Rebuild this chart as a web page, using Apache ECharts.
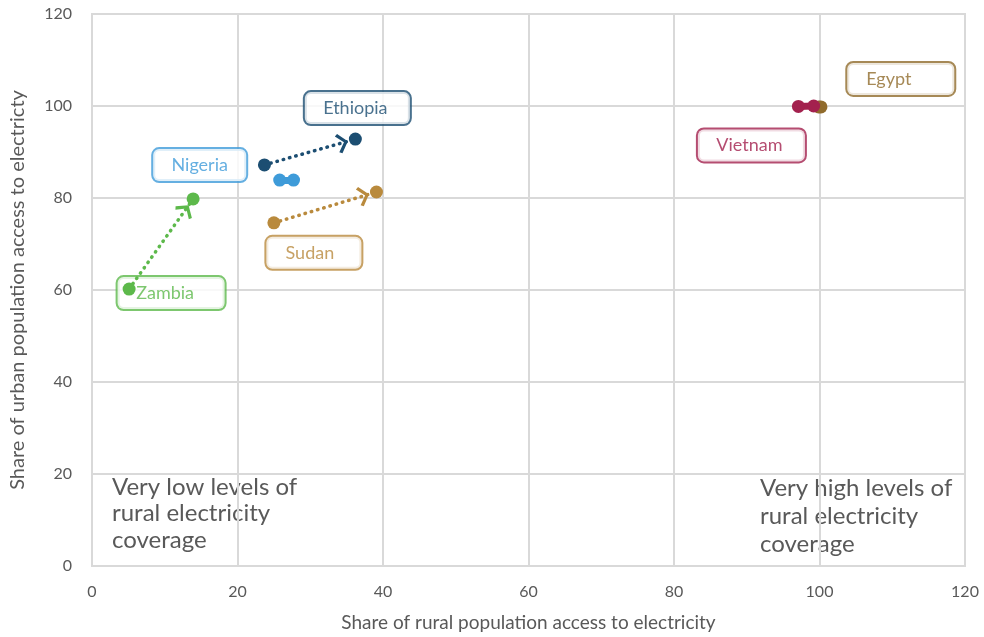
<!DOCTYPE html>
<html>
<head>
<meta charset="utf-8">
<title>Rural vs urban electricity access</title>
<style>
  html, body { margin: 0; padding: 0; background: #fff; }
  #chart { width: 984px; height: 637px; }
</style>
</head>
<body>
<div id="chart"></div>
<script src="https://cdn.jsdelivr.net/npm/echarts@6/dist/echarts.min.js"></script>
<script type="text/javascript">
// data (earlier point -> later point)
var countries = ['Zambia', 'Nigeria', 'Ethiopia', 'Sudan', 'Egypt', 'Vietnam'];
var ruralStart = [5.1, 25.8, 23.7, 25.0, 99.9, 97.1];
var urbanStart = [60.2, 83.9, 87.2, 74.6, 99.8, 99.9];
var ruralEnd = [13.9, 27.7, 36.2, 39.1, 100.2, 99.2];
var urbanEnd = [79.8, 83.9, 92.8, 81.3, 99.8, 100.0];
var hasArrow = [true, false, true, true, false, false];
var xTicks = [0, 20, 40, 60, 80, 100, 120];
var yTicks = [0, 20, 40, 60, 80, 100, 120];

var colors = {
  Zambia: '#5db94b',
  Nigeria: '#3e9bd9',
  Ethiopia: '#1c4e72',
  Sudan: '#b98a3d',
  Egypt: '#906b2c',
  Vietnam: '#a3214e'
};
// label box: which point it hangs on, pixel offset of box centre, box width, text shift
var labelCfg = {
  Zambia:   { at: 0, offset: [42, 4],    width: 107, shift: -6 },
  Nigeria:  { at: 0, offset: [-80, -15], width: 93,  shift: 0 },
  Ethiopia: { at: 1, offset: [2, -31],   width: 105, shift: -2 },
  Sudan:    { at: 0, offset: [40, 30],   width: 95,  shift: -4 },
  Egypt:    { at: 0, offset: [82, -28],  width: 107, shift: -12 },
  Vietnam:  { at: 0, offset: [-47, 39],  width: 107, shift: -2 }
};

// open chevron sitting just behind the end point (tiny stub at the top keeps it off-centre)
var arrowPath = 'path://M9,0 L9.01,0 L9,0.01 Z M9,24 L18,31.5 L16.4,34 L9,27.6 L1.6,34 L0,31.5 Z';
var font = 'Lato, "Open Sans", sans-serif';

var series = [];
var labelData = [];

countries.forEach(function (name, i) {
  var c = colors[name];
  var cfg = labelCfg[name];
  var pts = [[ruralStart[i], urbanStart[i]], [ruralEnd[i], urbanEnd[i]]];

  labelData.push({
    value: pts[cfg.at],
    label: {
      show: true,
      position: 'inside',
      offset: cfg.offset,
      formatter: name,
      color: c,
      fontFamily: font,
      fontSize: 18,
      backgroundColor: '#fff',
      borderColor: c,
      borderWidth: 2,
      borderRadius: 6,
      width: cfg.width - 28,
      height: 28,
      lineHeight: 28,
      padding: [4, 14 - cfg.shift, 0, 14 + cfg.shift],
      align: 'center',
      verticalAlign: 'middle'
    }
  });

  var s = {
    name: name,
    type: 'scatter',
    symbolSize: 13,
    itemStyle: { color: c, opacity: 1 },
    emphasis: { disabled: true },
    z: 3,
    data: pts
  };
  if (hasArrow[i]) {
    s.markLine = {
      silent: true,
      z: 2,
      symbol: ['none', arrowPath],
      symbolSize: [20, 38],
      label: { show: false },
      lineStyle: { color: c, type: [0.5, 6], width: 3.5, cap: 'round', opacity: 1 },
      data: [[{ coord: pts[0] }, { coord: pts[1] }]]
    };
  } else {
    s.markLine = {
      silent: true,
      z: 2,
      symbol: ['none', 'none'],
      label: { show: false },
      lineStyle: { color: c, type: 'solid', width: 7, opacity: 1 },
      data: [[{ coord: pts[0] }, { coord: pts[1] }]]
    };
  }
  series.push(s);
});

series.unshift({
  name: 'labels',
  type: 'scatter',
  symbolSize: 0,
  silent: true,
  z: 1,
  data: labelData
});

var chart = echarts.init(document.getElementById('chart'), null, { renderer: 'canvas' });
chart.setOption({
  animation: false,
  backgroundColor: '#fff',
  textStyle: { fontFamily: font },
  grid: {
    left: 89, right: 19, top: 14, bottom: 70,
    show: true, borderColor: '#d9d9d9', borderWidth: 2
  },
  xAxis: {
    type: 'value',
    min: xTicks[0], max: xTicks[xTicks.length - 1], interval: 20,
    name: 'Share of rural population access to electricity',
    nameLocation: 'middle', nameGap: 47,
    nameTextStyle: { color: '#595959', fontSize: 19, fontFamily: font },
    axisLine: { show: false },
    axisTick: { show: false },
    axisLabel: { color: '#595959', fontSize: 16, margin: 18, fontFamily: font },
    splitLine: { lineStyle: { color: '#d9d9d9', width: 2 } }
  },
  yAxis: {
    type: 'value',
    min: yTicks[0], max: yTicks[yTicks.length - 1], interval: 20,
    name: 'Share of urban population access to electricty',
    nameLocation: 'middle', nameGap: 64, nameRotate: 90,
    nameTextStyle: { color: '#595959', fontSize: 20, fontFamily: font },
    axisLine: { show: false },
    axisTick: { show: false },
    axisLabel: { color: '#595959', fontSize: 16, margin: 20, fontFamily: font },
    splitLine: { lineStyle: { color: '#d9d9d9', width: 2 } }
  },
  graphic: [
    {
      type: 'text', left: 112, top: 474,
      style: {
        text: 'Very low levels of\nrural electricity\ncoverage',
        fill: '#595959', fontSize: 24, lineHeight: 26.5, fontFamily: font
      }
    },
    {
      type: 'text', left: 760, top: 474,
      style: {
        text: 'Very high levels of\nrural electricity\ncoverage',
        fill: '#595959', fontSize: 24, lineHeight: 28, fontFamily: font
      }
    }
  ],
  series: series
});
</script>
</body>
</html>
